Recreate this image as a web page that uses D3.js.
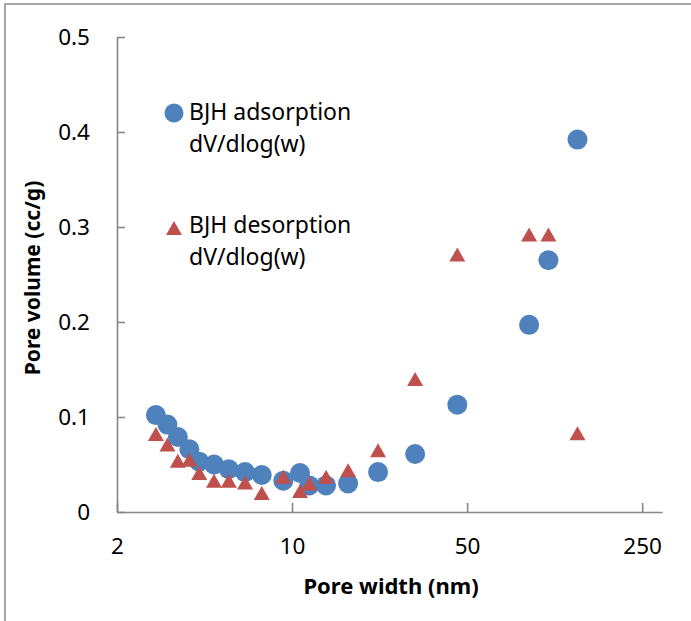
<!DOCTYPE html>
<html lang="en">
<head>
  <meta charset="UTF-8">
  <title>Pore size distribution</title>
  <style>
    body { margin: 0; background: #fff; }
    text { font-family: 'Noto Sans', 'Open Sans', sans-serif; }
  </style>
</head>
<body>

  <svg id="svg" width="691" height="621"></svg>

  <script src="https://d3js.org/d3.v7.min.js"></script>
  <script>
    // pore width (nm), shared by both series
    const widths = [2.86, 3.18, 3.50, 3.89, 4.26, 4.88, 5.59, 6.49, 7.57, 9.23,
      10.76, 11.72, 13.67, 16.74, 22.05, 31.0, 45.7, 88.4, 105.6, 137.9]
    const adsorption = [0.102, 0.092, 0.079, 0.066, 0.053, 0.050, 0.045, 0.042, 0.039, 0.033,
      0.041, 0.028, 0.028, 0.030, 0.042, 0.061, 0.113, 0.197, 0.265, 0.392]
    const desorption = [0.082, 0.071, 0.054, 0.055, 0.041, 0.033, 0.033, 0.031, 0.020, 0.037,
      0.022, 0.030, 0.037, 0.044, 0.065, 0.140, 0.271, 0.292, 0.292, 0.083]
    const xTicks = [2, 10, 50, 250]
    const yTicks = [0, 0.1, 0.2, 0.3, 0.4, 0.5]
    const seriesNames = [['BJH adsorption', 'dV/dlog(w)'], ['BJH desorption', 'dV/dlog(w)']]

    const blue = '#4f81bd'
    const red = '#c0504d'
    const axisGrey = '#868686'

    const svg = d3.select('#svg')

    // outer chart frame (runs off the right and bottom edge)
    svg.append('rect')
      .attr('x', 5).attr('y', 4)
      .attr('width', 720).attr('height', 660)
      .attr('fill', 'none')
      .attr('stroke', '#8a8a8a')
      .attr('stroke-width', 1.5)

    const xScale = d3.scaleLog()
      .base(5)
      .domain([2, 300])
      .range([117, 662])
    const yScale = d3.scaleLinear()
      .domain([0, 0.5])
      .range([512, 37])

    const xAxis = svg.append('g')
      .attr('transform', 'translate(0,512)')
      .call(d3.axisBottom(xScale)
        .tickValues(xTicks)
        .tickFormat(d3.format('d'))
        .tickSizeInner(-9)
        .tickSizeOuter(0)
        .tickPadding(26))
    const yAxis = svg.append('g')
      .attr('transform', 'translate(117,0)')
      .call(d3.axisLeft(yScale)
        .tickValues(yTicks)
        .tickFormat(d => d === 0 ? '0' : d3.format('.1f')(d))
        .tickSizeInner(-8)
        .tickSizeOuter(0)
        .tickPadding(27))

    for (const ax of [xAxis, yAxis]) {
      ax.select('.domain').attr('stroke', axisGrey).attr('stroke-width', 1.6)
      ax.selectAll('.tick line').attr('stroke', axisGrey).attr('stroke-width', 1.6)
      ax.selectAll('.tick text')
        .attr('fill', '#000')
        .style('font-family', "'Noto Sans', sans-serif")
        .style('font-size', '22.5px')
    }

    // axis titles
    svg.append('text')
      .text('Pore width (nm)')
      .attr('x', 391).attr('y', 594)
      .attr('text-anchor', 'middle')
      .style('font-size', '22px')
      .style('font-weight', 'bold')
    svg.append('text')
      .text('Pore volume (cc/g)')
      .attr('transform', 'translate(40,278) rotate(-90)')
      .attr('text-anchor', 'middle')
      .style('font-size', '21px')
      .style('font-weight', 'bold')

    const points = widths.map((w, i) => ({ w, a: adsorption[i], d: desorption[i] }))
    const triangle = 'M0,-7L8,7L-8,7Z'

    svg.append('g')
      .selectAll('circle')
      .data(points)
      .enter()
      .append('circle')
      .attr('cx', d => xScale(d.w))
      .attr('cy', d => yScale(d.a))
      .attr('r', 10)
      .attr('fill', blue)

    svg.append('g')
      .selectAll('path')
      .data(points)
      .enter()
      .append('path')
      .attr('d', triangle)
      .attr('transform', d => `translate(${xScale(d.w)},${yScale(d.d)})`)
      .attr('fill', red)

    // legend
    const legend = svg.append('g')
    legend.append('circle')
      .attr('cx', 174).attr('cy', 113).attr('r', 9.5)
      .attr('fill', blue)
    legend.append('path')
      .attr('d', triangle)
      .attr('transform', 'translate(174,228)')
      .attr('fill', red)
    const legendY = [[120, 152], [233, 265]]
    seriesNames.forEach((lines, i) => {
      lines.forEach((line, j) => {
        legend.append('text')
          .text(line)
          .attr('x', 189)
          .attr('y', legendY[i][j])
          .style('font-size', '23px')
      })
    })
  </script>
</body>
</html>
